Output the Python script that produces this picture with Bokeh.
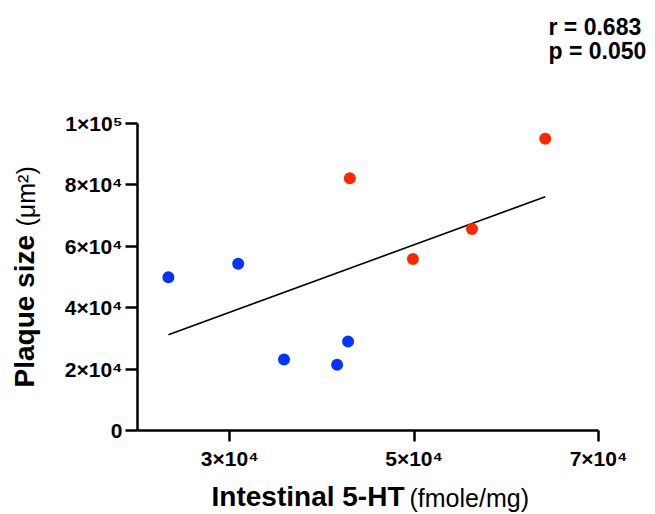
import numpy as np
from bokeh.plotting import figure
from bokeh.models import FixedTicker, Label
from bokeh.embed import file_html
from bokeh.resources import INLINE

# ---- data ----
blue_x = [23350, 30920, 35890, 41650, 42840]
blue_y = [49900, 54300, 23100, 21400, 29000]
red_x = [43030, 49870, 56280, 64220]
red_y = [82200, 55900, 65600, 95000]

x_ticks = [30000, 50000, 70000]
x_tick_labels = ["3×10⁴", "5×10⁴", "7×10⁴"]
y_ticks = [0, 20000, 40000, 60000, 80000, 100000]
y_tick_labels = ["0", "2×10⁴", "4×10⁴", "6×10⁴", "8×10⁴", "1×10⁵"]

stats_lines = ["r = 0.683", "p = 0.050"]
x_label_bold, x_label_reg = "Intestinal 5-HT", "(fmole/mg)"
y_label_bold, y_label_reg = "Plaque size", "(μm²)"

X0, X1, Y0, Y1 = 20000, 70000, 0, 100000   # axis extents

FONT = "Liberation Sans"
W, H = 655, 514
# where the axes box sits on the page (pixels)
AX_L, AX_R, AX_T, AX_B = 137, 598, 123, 430

def px_x(px):
    return X0 + (px - AX_L) * (X1 - X0) / (AX_R - AX_L)

def px_y(py):
    return Y0 + (AX_B - py) * (Y1 - Y0) / (AX_B - AX_T)

p = figure(frame_width=W, frame_height=H,
           min_border=0, min_border_left=0, min_border_right=0,
           min_border_top=0, min_border_bottom=0,
           x_range=(px_x(0), px_x(W)), y_range=(px_y(H), px_y(0)),
           output_backend="svg", toolbar_location=None)
p.outline_line_color = None
p.grid.visible = False
p.background_fill_color = "white"
p.border_fill_color = "white"
p.title.text = ""

for ax in (p.xaxis[0], p.yaxis[0]):
    ax.axis_line_width = 2.5
    ax.axis_line_color = "black"
    ax.major_tick_line_width = 2.5
    ax.major_tick_line_color = "black"
    ax.minor_tick_line_color = None
    ax.major_tick_in = 0
    ax.major_label_text_font = FONT
    ax.major_label_text_font_style = "bold"
    ax.major_label_text_font_size = "21px"
    ax.major_label_text_color = "black"

p.xaxis.ticker = FixedTicker(ticks=x_ticks)
p.xaxis.major_label_overrides = {t: l for t, l in zip(x_ticks, x_tick_labels)}
p.xaxis.major_tick_out = 11
p.xaxis.major_label_standoff = 5
p.xaxis.fixed_location = Y0
p.xaxis.bounds = (X0, X1)

p.yaxis.ticker = FixedTicker(ticks=y_ticks)
p.yaxis.major_label_overrides = {t: l for t, l in zip(y_ticks, y_tick_labels)}
p.yaxis.major_tick_out = 12
p.yaxis.major_label_standoff = 3
p.yaxis.fixed_location = X0
p.yaxis.bounds = (Y0, Y1)

# regression line (least squares over all points)
all_x = np.array(blue_x + red_x, dtype=float)
all_y = np.array(blue_y + red_y, dtype=float)
slope, intercept = np.polyfit(all_x, all_y, 1)
lx = np.array([all_x.min(), all_x.max()])
p.line(lx, slope * lx + intercept, line_color="black", line_width=1.6)

p.scatter(blue_x, blue_y, size=12, fill_color="#0433FF", line_color=None)
p.scatter(red_x, red_y, size=12, fill_color="#FF2600", line_color=None)

def lab(text, x, y, size, bold=True, align="left", angle=0.0):
    p.add_layout(Label(x=px_x(x), y=px_y(y), text=text, text_font=FONT,
                       text_font_style="bold" if bold else "normal",
                       text_font_size=size, text_align=align,
                       text_baseline="alphabetic", text_color="black",
                       angle=angle))

# x axis label
lab(x_label_bold, 404, 496, "28px", True, "right")
lab(x_label_reg, 409, 497, "25px", False, "left")
# y axis label (rotated)
lab(y_label_bold, 24, 387, "28px", True, "left", np.pi / 2)
lab(y_label_reg, 25, 226, "25px", False, "left", np.pi / 2)
# stats
lab(stats_lines[0], 548, 26, "23px", True, "left")
lab(stats_lines[1], 548, 50, "23px", True, "left")

open("out.html", "w").write(file_html(p, INLINE))
